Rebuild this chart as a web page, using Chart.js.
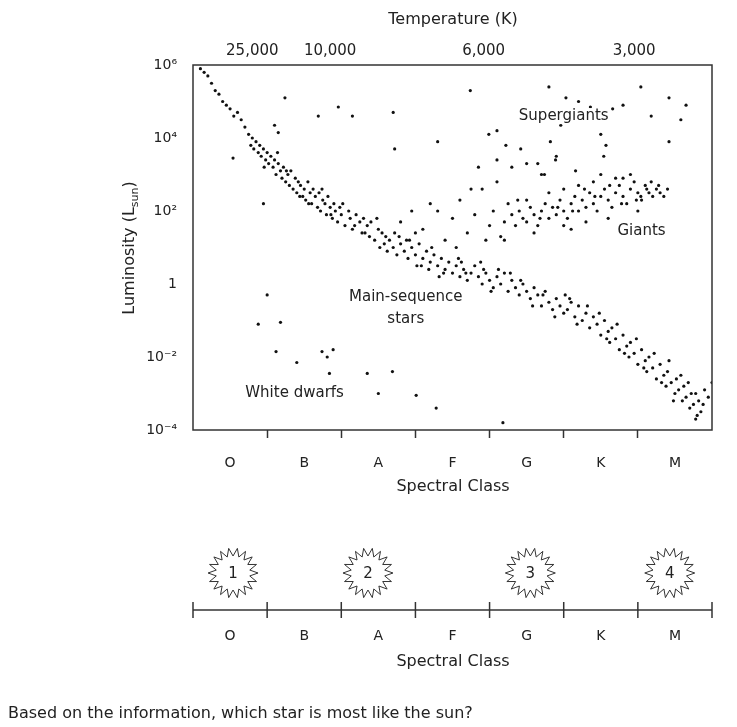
<!DOCTYPE html>
<html><head><meta charset="utf-8">
<script src="https://cdn.jsdelivr.net/npm/chart.js@4"></script>
<style>html,body{margin:0;padding:0;background:#fff}#wrap{width:737px;height:727px}</style>
</head><body><div id="wrap"><canvas id="c"></canvas></div>
<script>
// Spectral classes (x in class units, each class spans 1 unit)
const spectralClasses = ['O','B','A','F','G','K','M'];
const tempLabels = ['25,000','10,000','6,000','3,000'];
const tempPositions = [0.8, 1.85, 3.92, 5.95];
const lumTicks = [1e-4,1e-2,1,1e2,1e4,1e6];
const lumTickLabels = ['10⁻⁴','10⁻²','1','10²','10⁴','10⁶'];
// [spectral x, log10 L]
const mainSequence = [0.1,5.9,0.15,5.8,0.2,5.7,0.25,5.5,0.3,5.3,0.35,5.2,0.4,5.0,0.45,4.9,0.5,4.8,0.55,4.6,0.6,4.7,0.65,4.5,0.7,4.3,0.75,4.1,0.8,4.0,0.82,3.7,0.85,3.9,0.88,3.6,0.9,3.8,0.92,3.5,0.95,3.7,0.98,3.4,1.0,3.6,1.02,3.3,1.05,3.5,1.08,3.2,1.1,3.4,1.12,3.0,1.15,3.3,1.18,3.1,1.2,2.9,1.22,3.2,1.25,2.8,1.28,3.0,1.3,2.7,1.32,3.1,1.35,2.6,1.38,2.9,1.4,2.5,1.42,2.8,1.45,2.7,1.48,2.4,1.5,2.6,1.52,2.3,1.55,2.8,1.58,2.5,1.6,2.2,1.62,2.6,1.65,2.4,1.68,2.1,1.7,2.5,1.72,2.0,1.75,2.3,1.78,2.2,1.8,1.9,1.82,2.4,1.85,2.1,1.88,1.8,1.9,2.2,1.92,2.0,1.95,1.7,1.98,2.1,2.0,1.9,2.05,1.6,2.1,2.0,2.12,1.8,2.15,1.5,2.2,1.9,2.25,1.7,2.28,1.4,2.3,1.8,2.35,1.6,2.38,1.3,2.4,1.7,2.45,1.2,2.5,1.5,2.52,1.0,2.55,1.4,2.6,1.3,2.62,0.9,2.65,1.2,2.7,1.0,2.72,1.4,2.75,0.8,2.8,1.1,2.85,0.9,2.88,1.2,2.9,0.7,2.95,1.0,3.0,0.8,3.02,0.5,3.05,1.1,3.1,0.7,3.15,0.9,3.18,0.4,3.2,0.6,3.25,0.8,3.3,0.5,3.32,0.2,3.35,0.7,3.4,0.4,3.45,0.6,3.5,0.3,3.55,0.5,3.6,0.2,3.62,0.6,3.65,0.4,3.7,0.1,3.75,0.3,3.8,0.5,3.85,0.2,3.9,0.0,3.92,0.4,3.95,0.3,4.0,0.1,4.05,-0.1,4.1,0.2,4.15,0.0,4.2,0.3,4.25,-0.2,4.3,0.1,4.35,-0.1,4.4,-0.3,4.45,0.0,4.5,-0.2,4.55,-0.4,4.6,-0.1,4.65,-0.3,4.7,-0.6,4.75,-0.2,4.8,-0.5,4.85,-0.7,4.9,-0.4,4.95,-0.6,5.0,-0.8,5.02,-0.3,5.05,-0.7,5.1,-0.5,5.15,-0.9,5.2,-0.6,5.25,-1.0,5.3,-0.8,5.35,-1.2,5.4,-0.9,5.45,-1.1,5.5,-1.4,5.55,-1.0,5.6,-1.3,5.62,-1.6,5.65,-1.2,5.7,-1.5,5.75,-1.8,5.8,-1.4,5.85,-1.7,5.88,-2.0,5.9,-1.6,5.95,-1.9,6.0,-2.2,6.05,-1.8,6.1,-2.1,6.12,-2.4,6.15,-2.0,6.2,-2.3,6.25,-2.6,6.3,-2.2,6.35,-2.5,6.38,-2.8,6.4,-2.4,6.45,-2.7,6.5,-3.0,6.52,-2.6,6.55,-2.9,6.6,-3.2,6.62,-2.8,6.65,-3.1,6.7,-3.4,6.72,-3.0,6.75,-3.3,6.8,-3.6,6.82,-3.2,6.85,-3.5,6.9,-2.9,6.95,-3.1,7.0,-2.7];
const mainSequenceExtra = [0.78,3.8,0.96,3.2,1.14,3.6,1.26,3.1,1.44,2.4,1.56,2.2,1.74,2.6,1.86,1.9,2.02,2.2,2.18,1.6,2.32,1.4,2.48,1.8,2.58,1.1,2.78,1.3,2.92,1.2,3.08,0.5,3.22,1.0,3.38,0.3,3.58,0.7,3.68,0.3,3.88,0.6,4.02,-0.2,4.12,0.4,4.28,0.3,4.42,0.1,4.58,-0.6,4.72,-0.3,4.88,-0.9,5.08,-0.4,5.18,-1.1,5.32,-0.6,5.48,-0.8,5.58,-1.5,5.72,-1.1,5.82,-1.9,5.98,-1.5,6.08,-2.3,6.22,-1.9,6.32,-2.7,6.42,-2.1,6.48,-3.2,6.58,-2.5,6.68,-2.7,6.78,-3.0,6.88,-3.3,6.78,-3.7];
const giants = [4.2,1.7,4.3,1.9,4.35,1.6,4.4,2.0,4.45,1.8,4.5,1.7,4.55,2.1,4.6,1.9,4.65,1.6,4.7,2.0,4.75,2.2,4.8,1.8,4.85,2.1,4.9,1.9,4.95,2.3,5.0,2.0,5.05,1.8,5.1,2.2,5.15,2.4,5.2,2.0,5.25,2.3,5.3,2.1,5.35,2.5,5.4,2.2,5.45,2.0,5.5,2.4,5.55,2.6,5.6,2.3,5.65,2.1,5.7,2.5,5.75,2.7,5.8,2.4,5.85,2.2,5.9,2.6,5.95,2.8,6.0,2.5,6.05,2.3,6.1,2.7,6.15,2.5,6.2,2.4,6.25,2.6,6.3,2.5,6.35,2.4,6.4,2.6,4.25,2.2,4.5,2.3,4.8,2.5,5.0,1.6,5.2,2.7,5.4,2.8,5.6,1.8,5.8,2.9,6.0,2.0,5.3,1.7,4.6,1.4,5.0,2.6,5.1,1.5,5.5,3.0,5.7,2.9,5.9,3.0,6.04,2.4,4.38,2.3,4.68,1.8,4.92,2.1,5.12,2.0,5.28,2.6,5.42,2.4,5.62,2.7,5.78,2.2,5.98,2.3,6.12,2.6,6.28,2.7,6.18,2.8];
const subgiants = [3.1,1.5,3.3,2.0,3.4,1.2,3.5,1.8,3.6,2.3,3.7,1.4,3.8,1.9,3.9,2.6,4.0,1.6,4.05,2.0,4.1,2.8,4.15,1.3,3.75,2.6,3.2,2.2,2.95,2.0,2.8,1.7,3.55,1.0,3.95,1.2,4.2,1.2,3.0,1.4,3.85,3.2,4.1,3.4,4.3,3.2,4.5,3.3,4.7,3.0,4.9,3.5,4.65,3.3,4.74,3.0];
const supergiants = [1.24,5.1,1.69,4.6,1.96,4.85,2.15,4.6,2.7,4.7,2.72,3.7,3.74,5.3,3.3,3.9,3.99,4.1,4.1,4.2,4.8,5.4,5.03,5.1,5.2,5.0,5.36,4.85,5.66,4.8,5.8,4.9,6.04,5.4,6.42,5.1,6.65,4.9,6.58,4.5,6.42,3.9,5.57,3.8,5.54,3.5,4.96,4.35,4.42,4.7,4.22,3.8,4.42,3.7,4.82,3.9,4.89,3.4,5.16,3.1,5.5,4.1,6.18,4.6,0.54,3.45,0.95,2.2,1.1,4.35,1.15,4.15];
const whiteDwarfs = [1.0,-0.3,0.88,-1.1,1.18,-1.05,1.12,-1.85,1.4,-2.15,1.74,-1.85,1.81,-2.0,1.89,-1.8,1.84,-2.45,2.35,-2.45,2.69,-2.4,2.5,-3.0,3.01,-3.05,3.28,-3.4,4.18,-3.8];
const regionLabels = [['Supergiants',5.0,4.6],['Giants',6.05,1.45],['Main-sequence',2.87,-0.35],['stars',2.87,-0.95],['White dwarfs',1.37,-3.0]];
const starNumbers = ['1','2','3','4'];
const starPositions = [0.54, 2.36, 4.55, 6.43];
const questionText = 'Based on the information, which star is most like the sun?';

const allPts = [].concat(mainSequence,mainSequenceExtra,giants,subgiants,supergiants,whiteDwarfs);
const pts = [];
for (let i=0;i<allPts.length;i+=2) pts.push({x:allPts[i], y:Math.pow(10,allPts[i+1])});

const FONT = '"DejaVu Sans", Verdana, sans-serif';
const extras = {
  id:'extras',
  afterDraw(ch){
    const c=ch.ctx, a=ch.chartArea, xs=ch.scales.x, ys=ch.scales.y;
    c.save();
    c.strokeStyle='#333'; c.lineWidth=1.5;
    c.strokeRect(a.left,a.top,a.right-a.left,a.bottom-a.top);
    c.fillStyle='#222'; c.textAlign='center'; c.textBaseline='middle';
    c.font='15px '+FONT;
    regionLabels.forEach(([t,x,l])=>{
      const px=xs.getPixelForValue(x), py=ys.getPixelForValue(Math.pow(10,l));
      const w=c.measureText(t).width;
      c.fillStyle='#fff'; c.fillRect(px-w/2-1,py-8,w+2,16);
      c.fillStyle='#222'; c.fillText(t,px,py);
    });
    c.font='16px '+FONT;
    c.fillText('Temperature (K)',453,20);
    c.fillText('Spectral Class',453,487);
    c.translate(130,248); c.rotate(-Math.PI/2);
    c.textAlign='left';
    const p1='Luminosity (L', p2='sun', p3=')';
    c.font='16px '+FONT; const w1=c.measureText(p1).width;
    c.font='11px '+FONT; const w2=c.measureText(p2).width;
    c.font='16px '+FONT; const w3=c.measureText(p3).width;
    let sx=-(w1+w2+w3)/2;
    c.fillText(p1,sx,0); c.font='11px '+FONT; c.fillText(p2,sx+w1,5);
    c.font='16px '+FONT; c.fillText(p3,sx+w1+w2,0);
    c.setTransform(ch.currentDevicePixelRatio,0,0,ch.currentDevicePixelRatio,0,0);
    const ay=610;
    c.strokeStyle='#333'; c.lineWidth=1.5;
    c.beginPath(); c.moveTo(xs.getPixelForValue(0),ay); c.lineTo(xs.getPixelForValue(7),ay); c.stroke();
    for(let i=0;i<=7;i++){const px=xs.getPixelForValue(i);c.beginPath();c.moveTo(px,ay-8);c.lineTo(px,ay+8);c.stroke();}
    c.fillStyle='#222'; c.textAlign='center'; c.font='14px '+FONT;
    spectralClasses.forEach((s,i)=>c.fillText(s,xs.getPixelForValue(i+0.5),636));
    c.font='16px '+FONT; c.fillText('Spectral Class',453,662);
    starPositions.forEach((v,i)=>{
      const cx=xs.getPixelForValue(v), cy=573, n=18;
      c.beginPath();
      for(let k=0;k<2*n;k++){const r=k%2?17:25, ang=k*Math.PI/n; const X=cx+r*Math.cos(ang),Y=cy+r*Math.sin(ang); k?c.lineTo(X,Y):c.moveTo(X,Y);}
      c.closePath(); c.lineWidth=1; c.stroke();
      c.font='15px '+FONT; c.fillText(starNumbers[i],cx,cy+1);
    });
    c.textAlign='left'; c.font='16px '+FONT;
    c.fillText(questionText,8,714);
    c.restore();
  }
};

new Chart(document.getElementById('c'),{
  type:'scatter',
  data:{datasets:[{data:pts,backgroundColor:'#111',borderWidth:0,pointRadius:1.6,pointHoverRadius:1.6}]},
  options:{
    responsive:true,maintainAspectRatio:false,animation:false,
    layout:{padding:{left:0,right:25,top:0,bottom:0}},
    plugins:{legend:{display:false},tooltip:{enabled:false}},
    scales:{
      x:{type:'linear',position:'bottom',min:0,max:7,
        afterBuildTicks:s=>{s.ticks=[];for(let i=0;i<=14;i++)s.ticks.push({value:i/2});},
        afterFit:s=>{s.height=297;},
        grid:{drawOnChartArea:false,drawTicks:true,tickLength:8,tickWidth:1.5,
          color:ctx=>(ctx.tick&&ctx.tick.value%1===0&&ctx.tick.value>0&&ctx.tick.value<7)?'#333':'transparent'},
        border:{display:false},
        ticks:{autoSkip:false,maxRotation:0,padding:17,color:'#222',font:{size:14,family:FONT},
          callback:v=>(v%1!==0)?spectralClasses[Math.floor(v)]:''}},
      xTop:{type:'linear',position:'top',min:0,max:7,
        afterBuildTicks:s=>{s.ticks=tempPositions.map(v=>({value:v}));},
        afterFit:s=>{s.height=65;},
        grid:{display:false},border:{display:false},
        ticks:{autoSkip:false,maxRotation:0,padding:-3,color:'#222',font:{size:15,family:FONT},
          callback:(v,i)=>tempLabels[i]}},
      y:{type:'logarithmic',min:1e-4,max:1e6,
        afterBuildTicks:s=>{s.ticks=lumTicks.map(v=>({value:v}));},
        afterFit:s=>{s.width=193;},
        grid:{display:false},border:{display:false},
        ticks:{autoSkip:false,padding:8,color:'#222',font:{size:14,family:FONT},
          callback:(v)=>lumTickLabels[lumTicks.indexOf(v)]}}
    }
  },
  plugins:[extras]
});
</script></body></html>
